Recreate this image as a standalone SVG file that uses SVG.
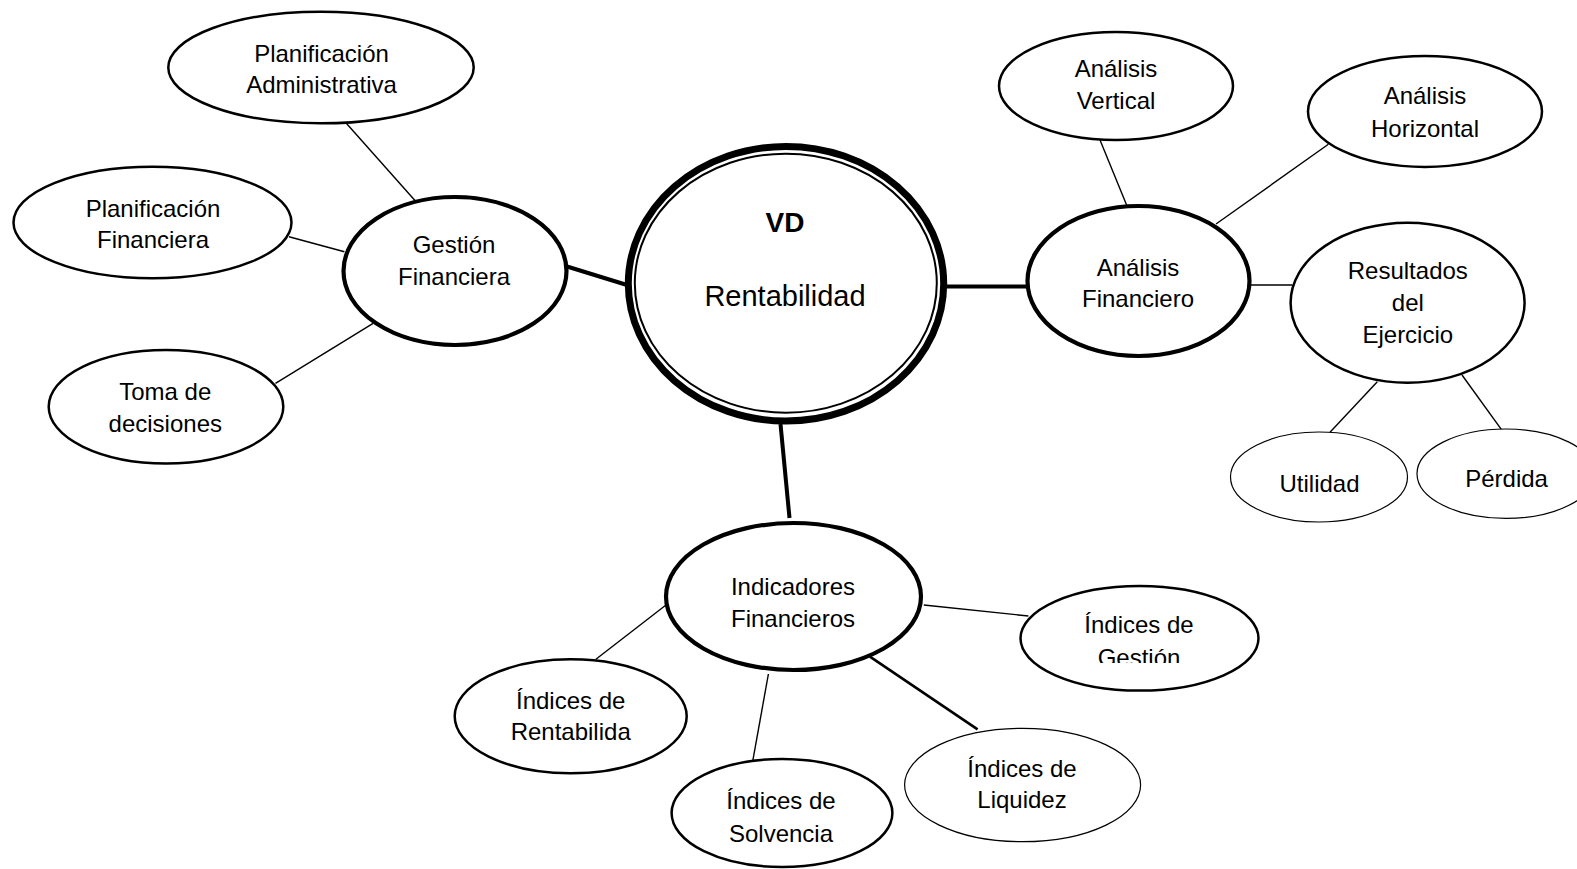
<svg xmlns="http://www.w3.org/2000/svg" width="1577" height="869" viewBox="0 0 1577 869">
  <defs>
    <style>
      text { font-family: "Liberation Sans", Arial, sans-serif; font-size: 24px; fill: #000; text-anchor: middle; }
      .node { fill: #fff; stroke: #000; stroke-width: 2.5; }
      .main { fill: #fff; stroke: #000; stroke-width: 4.2; }
      .light { fill: #fff; stroke: #000; stroke-width: 1.2; }
      .link { stroke: #000; stroke-width: 1.4; fill: none; }
      .link-mid { stroke: #000; stroke-width: 2.6; fill: none; }
      .link-thick { stroke: #000; stroke-width: 4; fill: none; }
    </style>
    <clipPath id="clip-gestion">
      <rect x="1030" y="590" width="220" height="73"/>
    </clipPath>
  </defs>

  <rect x="0" y="0" width="1577" height="869" fill="#fff"/>

  <!-- connectors -->
  <g id="connectors">
    <line class="link-thick" x1="567" y1="266.5" x2="627" y2="285"/>
    <line class="link-thick" x1="947" y1="286.5" x2="1028" y2="286.5"/>
    <line class="link-thick" x1="780.5" y1="424" x2="789.5" y2="518"/>
    <line class="link" x1="346.3" y1="123.3" x2="415.2" y2="200.7"/>
    <line class="link" x1="289" y1="236.7" x2="344.4" y2="251.7"/>
    <line class="link" x1="275.5" y1="383.3" x2="373.1" y2="323.3"/>
    <line class="link" x1="1100" y1="140" x2="1126.6" y2="205"/>
    <line class="link" x1="1328.4" y1="144.3" x2="1216" y2="224"/>
    <line class="link" x1="1249.5" y1="285" x2="1292.6" y2="285"/>
    <line class="link" x1="1377.3" y1="381.7" x2="1330" y2="432.3"/>
    <line class="link" x1="1462" y1="375" x2="1501.3" y2="429.3"/>
    <line class="link" x1="666" y1="605" x2="595.9" y2="659.3"/>
    <line class="link" x1="923.8" y1="605" x2="1028.4" y2="616"/>
    <line class="link" x1="768.4" y1="674" x2="752.8" y2="760.7"/>
    <line class="link-mid" x1="869.9" y1="656.7" x2="977.6" y2="729.3"/>
  </g>

  <!-- central variable -->
  <g id="node-rentabilidad">
    <ellipse cx="786" cy="283.7" rx="157.7" ry="137.3" fill="#fff" stroke="#000" stroke-width="7"/>
    <ellipse cx="785.8" cy="283.2" rx="151" ry="129.5" fill="none" stroke="#000" stroke-width="2"/>
    <text x="785" y="232" style="font-weight:bold;font-size:28px">VD</text>
    <text x="785" y="306" style="font-size:29px">Rentabilidad</text>
  </g>

  <!-- left branch -->
  <g id="node-gestion-financiera">
    <ellipse class="main" cx="455" cy="271" rx="111.5" ry="74"/>
    <text x="454" y="253">Gestión</text>
    <text x="454" y="284.5">Financiera</text>
  </g>
  <g id="node-planificacion-administrativa">
    <ellipse class="node" cx="321" cy="67.5" rx="152.7" ry="55.8"/>
    <text x="321.5" y="61.7">Planificación</text>
    <text x="321.5" y="92.7">Administrativa</text>
  </g>
  <g id="node-planificacion-financiera">
    <ellipse class="node" cx="152.5" cy="222.5" rx="139" ry="55.8"/>
    <text x="153" y="216.7">Planificación</text>
    <text x="153" y="248.3">Financiera</text>
  </g>
  <g id="node-toma-decisiones">
    <ellipse class="node" cx="166" cy="406.7" rx="117.3" ry="56.7"/>
    <text x="165.3" y="400">Toma de</text>
    <text x="165.3" y="431.7">decisiones</text>
  </g>

  <!-- right branch -->
  <g id="node-analisis-financiero">
    <ellipse class="main" cx="1138.5" cy="281" rx="111" ry="75"/>
    <text x="1138" y="276">Análisis</text>
    <text x="1138" y="307.3">Financiero</text>
  </g>
  <g id="node-analisis-vertical">
    <ellipse class="node" cx="1116" cy="86" rx="117" ry="54"/>
    <text x="1116" y="76.7">Análisis</text>
    <text x="1116" y="109">Vertical</text>
  </g>
  <g id="node-analisis-horizontal">
    <ellipse class="node" cx="1425" cy="111.5" rx="117" ry="55.5"/>
    <text x="1425" y="104">Análisis</text>
    <text x="1425" y="136.7">Horizontal</text>
  </g>
  <g id="node-resultados">
    <ellipse class="node" cx="1407.6" cy="302.7" rx="117" ry="80"/>
    <text x="1407.8" y="279">Resultados</text>
    <text x="1407.8" y="311">del</text>
    <text x="1407.8" y="342.7">Ejercicio</text>
  </g>
  <g id="node-utilidad">
    <ellipse class="light" cx="1319" cy="477" rx="88.5" ry="45"/>
    <text x="1319.5" y="492.3">Utilidad</text>
  </g>
  <g id="node-perdida">
    <ellipse class="light" cx="1506" cy="473.7" rx="89" ry="44.7"/>
    <text x="1506.6" y="487.3">Pérdida</text>
  </g>

  <!-- bottom branch -->
  <g id="node-indicadores">
    <ellipse class="main" cx="793.5" cy="596.5" rx="127.5" ry="73.5"/>
    <text x="793" y="595">Indicadores</text>
    <text x="793" y="626.7">Financieros</text>
  </g>
  <g id="node-indices-rentabilidad">
    <ellipse class="node" cx="570.7" cy="716.3" rx="116" ry="57"/>
    <text x="570.7" y="709">Índices de</text>
    <text x="570.7" y="740">Rentabilida</text>
  </g>
  <g id="node-indices-solvencia">
    <ellipse class="node" cx="782" cy="813" rx="110.4" ry="54"/>
    <text x="781" y="809">Índices de</text>
    <text x="781" y="841.7">Solvencia</text>
  </g>
  <g id="node-indices-liquidez">
    <ellipse class="light" cx="1022.6" cy="785" rx="118" ry="56.7"/>
    <text x="1022" y="776.7">Índices de</text>
    <text x="1022" y="808.3">Liquidez</text>
  </g>
  <g id="node-indices-gestion">
    <ellipse class="node" cx="1139.5" cy="638.3" rx="119" ry="52.3"/>
    <text x="1139" y="633.3">Índices de</text>
    <text x="1139" y="666" clip-path="url(#clip-gestion)">Gestión</text>
  </g>
</svg>
